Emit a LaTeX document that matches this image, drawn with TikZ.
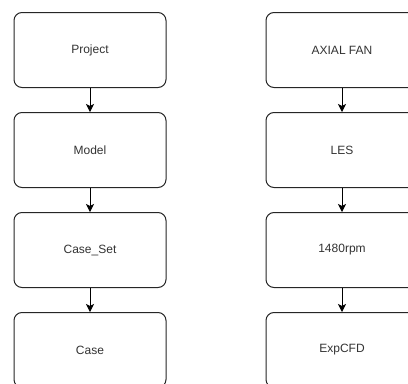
\documentclass[tikz,border=0pt]{standalone}
\usepackage{fontspec}
\setmainfont{Liberation Sans}
\usetikzlibrary{arrows.meta}
\begin{document}
\begin{tikzpicture}[x=0.75pt,y=-0.75pt,
  box/.style={draw=black!85, line width=0.75pt, rounded corners=6pt, fill=white,
    minimum width=114pt, minimum height=56.25pt, inner sep=0pt,
    font=\fontsize{9pt}{11pt}\selectfont, text=black!80},
  link/.style={draw=black, line width=0.75pt, -{Stealth[length=6pt,width=6pt,inset=1.5pt]}}]
\useasboundingbox (0,0) rectangle (408,383);
\clip (0,0) rectangle (408,383);
\node[box] (p1) at (90,50) {Project};
\node[box] (p2) at (90,150) {Model};
\node[box] (p3) at (90,250) {Case\_Set};
\node[box] (p4) at (90,350) {Case};
\node[box] (r1) at (342,50) {AXIAL FAN};
\node[box] (r2) at (342,150) {LES};
\node[box] (r3) at (342,250) {1480rpm};
\node[box] (r4) at (342,350) {ExpCFD};
\draw[link] (p1) -- (p2);
\draw[link] (p2) -- (p3);
\draw[link] (p3) -- (p4);
\draw[link] (r1) -- (r2);
\draw[link] (r2) -- (r3);
\draw[link] (r3) -- (r4);
\end{tikzpicture}
\end{document}
